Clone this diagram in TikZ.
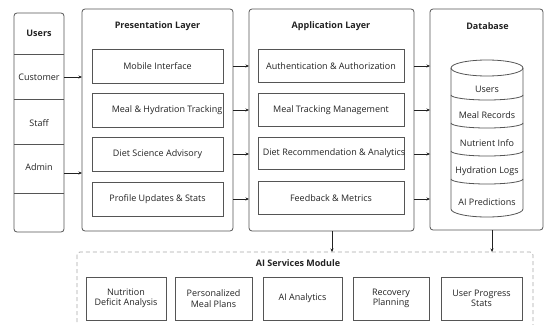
\documentclass[tikz,border=0pt]{standalone}
\usepackage{fontspec}
\setmainfont{Open Sans}
\usetikzlibrary{arrows.meta}
\definecolor{edge}{HTML}{555555}
\definecolor{dashgray}{HTML}{A8A8A8}
\definecolor{ink}{HTML}{222222}
\tikzset{
  layer/.style={draw=edge, line width=0.8pt, rounded corners=3pt},
  item/.style={draw=edge, line width=0.8pt, inner sep=0pt},
  lbl/.style={text=ink, font=\fontsize{9}{10.5}\selectfont, inner sep=0pt, align=center},
  ttl/.style={text=ink, font=\fontsize{9}{10.5}\selectfont\bfseries, inner sep=0pt},
  arr/.style={draw=ink, line width=0.6pt, -{Stealth[length=3.5pt,width=3pt]}},
}
\begin{document}
\begin{tikzpicture}[x=1pt,y=-1pt]
\useasboundingbox (0,0) rectangle (545,324);
\clip (0,0) rectangle (545,324);

% users column
\draw[layer] (14,13) rectangle (64,232);
\foreach \yy in {54,99,144,193} \draw[edge, line width=0.8pt] (14,\yy) -- (64,\yy);
\node[ttl] (uhead) at (39,33) {Users};
\node[lbl] (ucust) at (39,77) {Customer};
\node[lbl] (ustaff) at (39,123) {Staff};
\node[lbl] (uadmin) at (39,167) {Admin};
\coordinate (ucustr) at (64,77);
\coordinate (uadminr) at (64,173);

% presentation layer
\draw[layer] (82,9) rectangle (233,231);
\coordinate (pw) at (82,0); \coordinate (pe) at (233,0);
\node[ttl] (ptitle) at (157.5,26) {Presentation Layer};
\draw[item] (92,49) rectangle (223,83);  \node[lbl] (p1) at (157.5,66) {Mobile Interface};
\draw[item] (92,93) rectangle (223,127); \node[lbl] (p2) at (167,110) {Meal \& Hydration Tracking};
\draw[item] (92,137) rectangle (223,171); \node[lbl] (p3) at (157.5,154) {Diet Science Advisory};
\draw[item] (92,182) rectangle (223,216); \node[lbl] (p4) at (157.5,199) {Profile Updates \& Stats};

% application layer
\draw[layer] (249,9) rectangle (414,231);
\coordinate (aw) at (249,0); \coordinate (ae) at (414,0);
\node[ttl] (atitle) at (331,26) {Application Layer};
\draw[item] (258,49) rectangle (404,82);  \node[lbl] (a1) at (331,66) {Authentication \& Authorization};
\draw[item] (258,93) rectangle (404,126); \node[lbl] (a2) at (331,110) {Meal Tracking Management};
\draw[item] (258,137) rectangle (404,169); \node[lbl] (a3) at (334,153) {Diet Recommendation \& Analytics};
\draw[item] (258,181) rectangle (404,214); \node[lbl] (a4) at (331,198) {Feedback \& Metrics};

% database
\draw[layer] (430,9) rectangle (543,230);
\coordinate (dw) at (430,0);
\node[ttl] (dtitle) at (487.5,26) {Database};
\begin{scope}[draw=edge, line width=0.8pt]
  \draw (451,68) -- (451,209) arc[start angle=180, end angle=360, x radius=36pt, y radius=8pt] -- (523,68);
  \draw (487,68) ellipse [x radius=36pt, y radius=8pt];
  \foreach \yy in {95,123,151,179}
    \draw (451,\yy) arc[start angle=180, end angle=360, x radius=36pt, y radius=5pt];
\end{scope}
\node[lbl] (d1) at (487,89) {Users};
\node[lbl] (d2) at (487,115) {Meal Records};
\node[lbl] (d3) at (487,143) {Nutrient Info};
\node[lbl] (d4) at (487,171) {Hydration Logs};
\node[lbl] (d5) at (487,202) {AI Predictions};

% ai services module
\draw[dashgray, line width=0.8pt, dash pattern=on 4pt off 3pt, rounded corners=3pt] (77,252) rectangle (533,345);
\coordinate (aitop) at (0,252);
\node[ttl] (aititle) at (298,263) {AI Services Module};
\draw[item] (86,277) rectangle (166,320);  \node[lbl] (s1) at (126,298.5) {Nutrition\\Deficit Analysis};
\draw[item] (175,277) rectangle (252,320); \node[lbl] (s2) at (213.5,298.5) {Personalized\\Meal Plans};
\draw[item] (263,277) rectangle (342,320); \node[lbl] (s3) at (302.5,298.5) {AI Analytics};
\draw[item] (353,277) rectangle (429,320); \node[lbl] (s4) at (391,298.5) {Recovery\\Planning};
\draw[item] (441,277) rectangle (522,320); \node[lbl] (s5) at (481.5,298.5) {User Progress\\Stats};

% connectors
\draw[arr] (ucustr) -- (pw |- ucustr);
\draw[arr] (uadminr) -- (pw |- uadminr);
\foreach \n in {1,2,3,4} {
  \draw[arr] (pe |- p\n) -- (aw |- p\n);
  \draw[arr] (ae |- p\n) -- (dw |- p\n);
}
\coordinate (abot) at (332,231);
\coordinate (dbot) at (492,230);
\draw[arr] (abot) -- (abot |- aitop);
\draw[arr] (dbot) -- (dbot |- aitop);
\end{tikzpicture}
\end{document}
